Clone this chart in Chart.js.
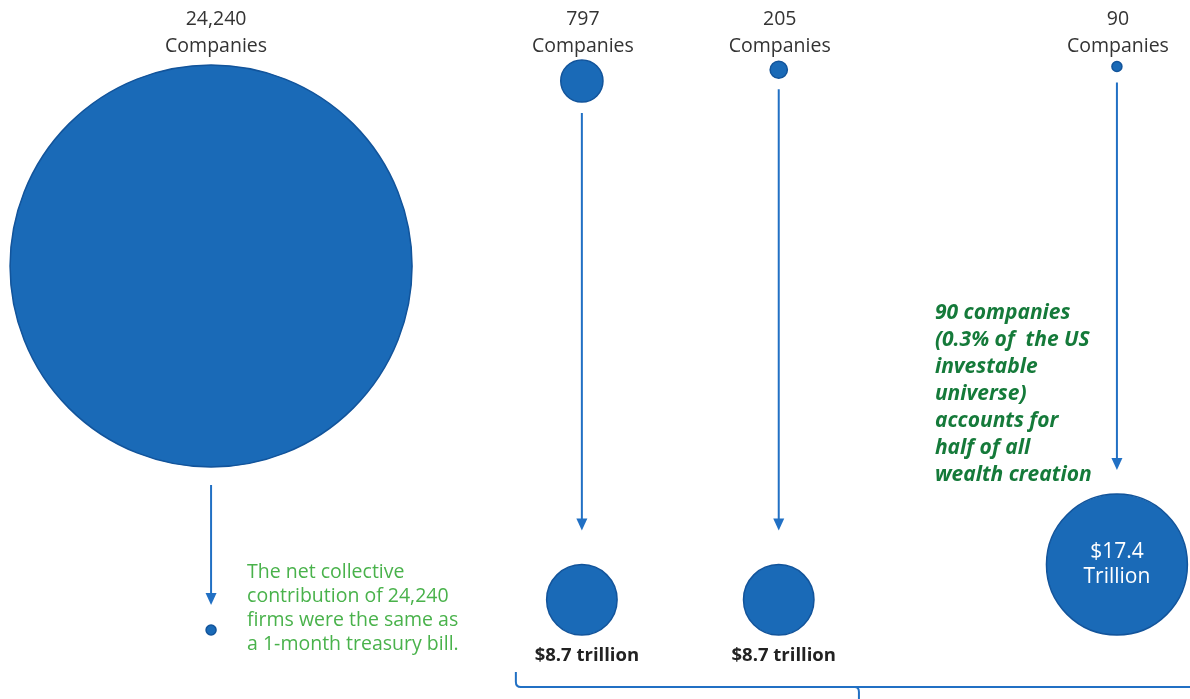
<!DOCTYPE html>
<html>
<head>
<meta charset="utf-8">
<script src="https://cdn.jsdelivr.net/npm/chart.js@4/dist/chart.umd.min.js"></script>
<style>
  html, body { margin: 0; padding: 0; background: #ffffff; }
  #wrap { width: 1190px; height: 699px; }
</style>
</head>
<body>
<div id="wrap"><canvas id="c" width="1190" height="699"></canvas></div>
<script>
// ---- Data ----
const groupLabels = ['24,240', '797', '205', '90'];
const companyCounts = [24240, 797, 205, 90];
const wealthTrillions = [0, 8.7, 8.7, 17.4];
const wealthLabels = ['', '$8.7 trillion', '$8.7 trillion', '$17.4\nTrillion'];
const leftNote = ['The net collective', 'contribution of 24,240', 'firms were the same as', 'a 1-month treasury bill.'];
const rightNote = ['90 companies', '(0.3% of  the US', 'investable', 'universe)', 'accounts for', 'half of all', 'wealth creation'];

// ---- Layout (not data) ----
const columnPos = [0, 1.228, 1.88, 3.0];   // horizontal slot of each group on the x scale
const TOP_ROW = 65;      // top edge of the upper bubbles (canvas units on y scale)
const BOTTOM_ROW = 635;  // bottom edge of the lower bubbles
const BLUE = '#1a6ab7';
const BLUE_EDGE = '#12549b';
const ARROW = '#2170c4';

// bubble size encodings
const rCompanies = v => Math.max(4.5, 201 * Math.pow(v / companyCounts[0], 0.66));
const rWealth = v => Math.max(5, v * 4.05);

const topPoints = companyCounts.map((v, i) => {
  const r = rCompanies(v);
  return { x: columnPos[i], y: TOP_ROW + r * (r > 100 ? 1 : 0.9) - (r > 100 ? 0 : 3), r: r, v: v };
});
const bottomPoints = wealthTrillions.map((v, i) => {
  const r = rWealth(v);
  return { x: columnPos[i], y: BOTTOM_ROW - r, r: r, v: v };
});

const FONT = '"Open Sans", "Noto Sans", sans-serif';

const annotate = {
  id: 'annotate',
  afterDatasetsDraw(chart) {
    const ctx = chart.ctx;
    const top = chart.getDatasetMeta(0).data;
    const bot = chart.getDatasetMeta(1).data;
    ctx.save();

    // arrows
    for (let i = 0; i < top.length; i++) {
      const t = top[i], b = bot[i];
      const rt = t.options.radius, rb = b.options.radius;
      const x = t.x;
      const y1 = t.y + rt + (rt > 100 ? 18 : 11);
      const y2 = b.y - rb - (rb < 10 ? 20 : (rb > 50 ? 24 : 34));
      ctx.strokeStyle = ARROW;
      ctx.fillStyle = ARROW;
      ctx.lineWidth = 2;
      ctx.beginPath();
      ctx.moveTo(x, y1);
      ctx.lineTo(x, y2 - 9);
      ctx.stroke();
      ctx.beginPath();
      ctx.moveTo(x - 5.5, y2 - 12);
      ctx.lineTo(x + 5.5, y2 - 12);
      ctx.lineTo(x, y2);
      ctx.closePath();
      ctx.fill();
    }

    // group labels on top
    ctx.fillStyle = '#333333';
    ctx.textAlign = 'center';
    ctx.textBaseline = 'middle';
    ctx.font = '19.5px ' + FONT;
    for (let i = 0; i < top.length; i++) {
      const x = top[i].x + (i === 0 ? 5 : 1);
      ctx.fillText(groupLabels[i], x, 19);
      ctx.fillText('Companies', x, 46);
    }

    // wealth labels
    for (let i = 0; i < bot.length; i++) {
      const b = bot[i];
      const lbl = wealthLabels[i];
      if (!lbl) continue;
      if (lbl.indexOf('\n') >= 0) {
        const parts = lbl.split('\n');
        ctx.fillStyle = '#ffffff';
        ctx.font = '21px ' + FONT;
        ctx.fillText(parts[0], b.x, b.y - 13);
        ctx.fillText(parts[1], b.x, b.y + 12);
      } else {
        ctx.fillStyle = '#222222';
        ctx.font = 'bold 18.5px ' + FONT;
        ctx.fillText(lbl, b.x + 5, b.y + b.options.radius + 21);
      }
    }

    // left green note
    ctx.textAlign = 'left';
    ctx.fillStyle = '#49b24b';
    ctx.font = '19.5px ' + FONT;
    const d = bot[0];
    leftNote.forEach((s, k) => ctx.fillText(s, d.x + 36, d.y - 58 + k * 24));

    // right green note (bold italic)
    ctx.fillStyle = '#157a3a';
    ctx.font = 'italic bold 21px ' + FONT;
    const t3 = top[3];
    rightNote.forEach((s, k) => ctx.fillText(s, t3.x - 182, 313 + k * 27));

    // bracket
    const left = top[1].x - 66;
    const right = chart.width;
    const mid = left + (right - left) / 2 + 6;
    ctx.strokeStyle = ARROW;
    ctx.lineWidth = 2;
    ctx.beginPath();
    ctx.moveTo(left, 672);
    ctx.lineTo(left, 682);
    ctx.quadraticCurveTo(left, 687, left + 5, 687);
    ctx.lineTo(right, 687);
    ctx.stroke();
    ctx.beginPath();
    ctx.moveTo(mid - 4, 687);
    ctx.quadraticCurveTo(mid, 687, mid, 692);
    ctx.lineTo(mid, 699);
    ctx.stroke();

    ctx.restore();
  }
};

new Chart(document.getElementById('c'), {
  type: 'bubble',
  data: {
    datasets: [
      {
        label: 'Companies',
        data: topPoints,
        backgroundColor: BLUE,
        borderColor: BLUE_EDGE,
        borderWidth: 1.5,
        clip: false
      },
      {
        label: 'Wealth created ($ trillion)',
        data: bottomPoints,
        backgroundColor: BLUE,
        borderColor: BLUE_EDGE,
        borderWidth: 1.5,
        clip: false
      }
    ]
  },
  options: {
    responsive: false,
    animation: false,
    layout: { padding: 0, autoPadding: false },
    plugins: {
      legend: { display: false },
      tooltip: { enabled: false },
      title: { display: false }
    },
    scales: {
      x: { type: 'linear', min: -0.699, max: 3.242, display: false },
      y: { type: 'linear', min: 0, max: 699, reverse: true, display: false }
    }
  },
  plugins: [annotate]
});
</script>
</body>
</html>
